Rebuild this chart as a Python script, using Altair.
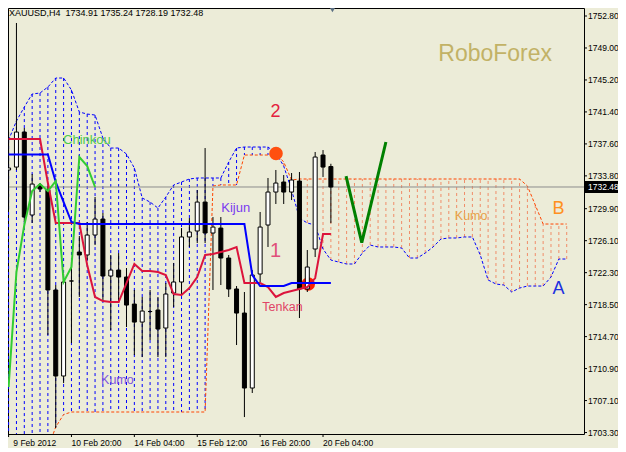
import altair as alt
import pandas as pd

# ---------------- data ----------------
open_ = [1734.50, 1734.85, 1739.01, 1729.15, 1732.72, 1732.12, 1720.24, 1710.02, 1721.31, 1724.75,
         1724.40, 1726.77, 1728.67, 1721.90, 1722.61, 1721.78, 1718.57, 1716.43, 1717.68, 1717.86,
         1715.72, 1719.88, 1721.19, 1726.54, 1727.25, 1730.69, 1727.01, 1727.60, 1724.04, 1720.36,
         1717.50, 1708.59, 1722.14, 1727.96, 1731.88, 1733.07, 1731.88, 1733.19, 1720.36, 1725.11,
         1736.28, 1734.91]
high = [1739.01, 1751.97, 1739.49, 1734.02, 1732.95, 1732.60, 1720.83, 1722.14, 1723.56, 1726.65,
        1728.32, 1731.29, 1729.39, 1724.40, 1724.63, 1722.85, 1720.24, 1719.41, 1720.24, 1719.41,
        1721.07, 1723.45, 1727.60, 1728.79, 1732.12, 1737.11, 1728.91, 1728.91, 1724.40, 1720.71,
        1720.00, 1722.61, 1729.51, 1733.55, 1734.50, 1733.90, 1734.14, 1734.26, 1724.99, 1736.64,
        1736.87, 1735.24]
low = [1729.74, 1734.50, 1728.32, 1728.20, 1731.88, 1714.89, 1703.84, 1709.18, 1713.94, 1719.41,
       1723.80, 1725.58, 1719.05, 1715.48, 1718.69, 1715.84, 1712.51, 1712.27, 1714.29, 1712.27,
       1712.27, 1718.22, 1719.64, 1725.35, 1725.82, 1725.82, 1720.24, 1720.83, 1719.41, 1713.70,
       1705.14, 1708.00, 1721.19, 1725.35, 1730.46, 1730.46, 1730.93, 1716.91, 1720.00, 1724.16,
       1733.67, 1728.19]
close = [1734.74, 1739.01, 1728.91, 1732.83, 1732.24, 1720.24, 1710.02, 1721.19, 1721.31, 1724.40,
         1726.77, 1728.67, 1721.90, 1722.61, 1721.78, 1718.45, 1716.43, 1717.74, 1717.68, 1715.60,
         1719.76, 1721.19, 1726.54, 1727.13, 1730.69, 1727.01, 1727.72, 1724.04, 1720.36, 1717.50,
         1708.59, 1722.02, 1727.72, 1731.88, 1732.95, 1731.88, 1733.31, 1720.36, 1722.97, 1736.04,
         1734.85, 1732.48]

tenkan = [1738.18, 1738.18, 1738.18, 1738.18, 1738.18, 1732.95, 1728.20, 1728.20, 1728.20, 1728.20,
          1723.21, 1719.41, 1718.93, 1718.81, 1718.81, 1721.07, 1723.33, 1722.49, 1722.49, 1722.38,
          1722.02, 1719.76, 1719.64, 1720.47, 1721.78, 1724.40, 1724.52, 1724.75, 1724.99, 1725.35,
          1721.07, 1721.07, 1721.07, 1720.59, 1719.41, 1719.88, 1720.12, 1720.36, 1720.59, 1721.66,
          1726.89, 1726.89]
kijun = [1736.34, 1736.34, 1736.34, 1736.34, 1736.34, 1736.34, 1733.07, 1730.69, 1728.32, 1728.08,
         1728.08, 1728.08, 1728.08, 1728.08, 1728.08, 1728.08, 1728.08, 1728.08, 1728.08, 1728.08,
         1728.08, 1728.08, 1728.08, 1728.08, 1728.08, 1728.08, 1728.08, 1728.08, 1728.08, 1728.08,
         1728.08, 1722.02, 1720.71, 1720.71, 1720.71, 1720.71, 1721.07, 1721.07, 1721.07, 1721.07,
         1721.07, 1721.07]
chinkou = [1708.71, 1722.38, 1727.96, 1732.00, 1732.83, 1732.00, 1733.19, 1721.19, 1722.97, 1736.04,
           1734.97, 1732.48]

span_a = [1738.06, 1740.32, 1741.98, 1743.53, 1743.65, 1744.36, 1745.43, 1745.43, 1744.00, 1741.39,
          1741.15, 1741.03, 1738.30, 1737.11, 1737.11, 1736.40, 1734.74, 1731.17, 1730.69, 1729.98,
          1731.29, 1732.72, 1733.07, 1733.43, 1733.55, 1733.55, 1733.55, 1733.55, 1735.45, 1737.11,
          1737.23, 1737.23, 1737.23, 1737.23, 1736.52, 1734.97, 1732.12, 1728.79, 1728.20, 1727.96,
          1725.11, 1723.80, 1723.56, 1723.33, 1723.33, 1724.63, 1725.58, 1725.35, 1725.35, 1725.35,
          1725.23, 1724.04, 1724.04, 1724.63, 1725.35, 1726.30, 1726.42, 1726.42, 1726.54, 1726.54,
          1724.40, 1721.43, 1720.95, 1720.83, 1720.00, 1720.47, 1720.71, 1720.71, 1720.71, 1721.78,
          1723.92, 1723.92]
span_b = [1701.40, 1701.40, 1701.40, 1701.40, 1701.40, 1701.40, 1703.96, 1705.44, 1705.74, 1705.74,
          1705.74, 1705.74, 1705.74, 1705.74, 1705.74, 1705.74, 1705.74, 1705.74, 1705.74, 1705.74,
          1705.74, 1705.74, 1705.74, 1705.74, 1705.74, 1705.74, 1732.60, 1732.72, 1732.72, 1732.72,
          1736.28, 1736.28, 1736.28, 1736.28, 1736.52, 1735.45, 1733.31, 1733.43, 1733.43, 1733.43,
          1733.43, 1733.43, 1733.43, 1733.43, 1733.43, 1733.43, 1733.43, 1733.43, 1733.43, 1733.43,
          1733.43, 1733.43, 1733.43, 1733.43, 1733.43, 1733.43, 1733.43, 1733.43, 1733.43, 1733.43,
          1733.43, 1733.43, 1733.43, 1733.43, 1733.43, 1733.43, 1732.60, 1730.34, 1728.08, 1728.08,
          1728.08, 1728.08]

y_tick_values = [1703.30, 1707.10, 1710.90, 1714.70, 1718.50, 1722.30, 1726.10, 1729.90,
                 1733.80, 1737.60, 1741.40, 1745.20, 1749.00, 1752.80]
x_tick_bars = [0, 8, 16, 24, 32, 40]
x_label_bars = [0.6, 8, 16, 24, 32, 40]
x_labels = ["9 Feb 2012", "10 Feb 20:00", "14 Feb 04:00", "15 Feb 12:00", "16 Feb 20:00", "20 Feb 04:00"]

v_bars = [42.93, 44.93, 48.0]
v_prices = [1733.78, 1725.86, 1737.83]

title_text = "XAUUSD,H4\u00a0\u00a01734.91 1735.24 1728.19 1732.48"

# ---------------- scales ----------------
FONT = "Liberation Sans"
W, H = 576, 426
xs = alt.Scale(domain=[0.5625, 72.5625], nice=False, zero=False)
ys = alt.Scale(domain=[1703.127, 1753.751], nice=False, zero=False)


def X(f):
    return alt.X(f, type="quantitative", scale=xs, axis=None)


def Y(f):
    return alt.Y(f, type="quantitative", scale=ys, axis=None)


n = len(open_)
candles = pd.DataFrame({"bar": list(range(n)), "o": open_, "h": high, "l": low, "c": close})
candles["lo"] = candles[["o", "c"]].min(axis=1)
candles["hi"] = candles[["o", "c"]].max(axis=1)
candles["dir"] = ["up" if c >= o else "down" for o, c in zip(open_, close)]

cloud = pd.DataFrame({"bar": list(range(len(span_a))), "a": span_a, "b": span_b})
cloud["side"] = ["A" if a >= b else "B" for a, b in zip(span_a, span_b)]

hatch = alt.Chart(cloud).mark_rule(strokeDash=[3, 3], strokeWidth=1, clip=True).encode(
    x=X("bar"), y=Y("a"), y2="b",
    color=alt.Color("side:N", scale=alt.Scale(domain=["A", "B"], range=["#0000FF", "#F08C68"]),
                    legend=None))

line_a = alt.Chart(cloud).mark_line(strokeDash=[3, 2], strokeWidth=1, color="#0000FF",
                                    clip=True).encode(x=X("bar"), y=Y("a"))
line_b = alt.Chart(cloud).mark_line(strokeDash=[3, 2], strokeWidth=1, color="#FF4500",
                                    clip=True).encode(x=X("bar"), y=Y("b"))

price_line = alt.Chart(pd.DataFrame({"p": [close[-1]]})).mark_rule(
    color="#8C8C8C", strokeWidth=1).encode(y=Y("p"))

circle2 = alt.Chart(pd.DataFrame({"bar": [34.02], "p": [1736.46]})).mark_point(
    filled=True, shape="circle", size=185, opacity=1, color="#FF5010").encode(x=X("bar"), y=Y("p"))
circle1 = alt.Chart(pd.DataFrame({"bar": [38.12], "p": [1720.95]})).mark_point(
    filled=True, shape="circle", size=185, opacity=1, color="#FF1E00").encode(x=X("bar"), y=Y("p"))

wicks = alt.Chart(candles).mark_rule(color="black", strokeWidth=1, clip=True).encode(
    x=X("bar"), y=Y("l"), y2="h")
bodies = alt.Chart(candles).mark_bar(size=4, stroke="black", strokeWidth=1, clip=True).encode(
    x=X("bar"), y=Y("lo"), y2="hi",
    fill=alt.Fill("dir:N", scale=alt.Scale(domain=["up", "down"], range=["white", "black"]),
                  legend=None))

tenkan_l = alt.Chart(pd.DataFrame({"bar": list(range(len(tenkan))), "p": tenkan})).mark_line(
    color="#DC143C", strokeWidth=2, clip=True).encode(x=X("bar"), y=Y("p"))
kijun_l = alt.Chart(pd.DataFrame({"bar": list(range(len(kijun))), "p": kijun})).mark_line(
    color="#0000FF", strokeWidth=2, clip=True).encode(x=X("bar"), y=Y("p"))
chinkou_l = alt.Chart(pd.DataFrame({"bar": list(range(len(chinkou))), "p": chinkou})).mark_line(
    color="#32CD32", strokeWidth=2, clip=True).encode(x=X("bar"), y=Y("p"))

v_line = alt.Chart(pd.DataFrame({"bar": v_bars, "p": v_prices})).mark_line(
    color="#008000", strokeWidth=3).encode(x=X("bar"), y=Y("p"))


def label(text, bar, price, color, size):
    return alt.Chart(pd.DataFrame({"bar": [bar], "p": [price], "t": [text]})).mark_text(
        color=color, fontSize=size, font=FONT, align="center", baseline="middle").encode(
        x=X("bar"), y=Y("p"), text="t:N")


labels = [
    label("RoboForex", 61.9, 1748.28, "#C2B266", 23),
    label("2", 33.94, 1741.39, "#E4203E", 18),
    label("1", 33.96, 1724.89, "#E0507A", 20),
    label("Chinkou", 9.96, 1738.06, "#4CC94C", 13),
    label("Kijun", 28.9, 1729.98, "#7A3CF0", 13),
    label("Tenkan", 34.84, 1718.22, "#E04466", 12.5),
    label("Kumo", 13.84, 1709.54, "#7E55DE", 12.5),
    label("Kumo", 58.84, 1729.03, "#E8A048", 12.5),
    label("A", 69.96, 1720.41, "#2030E0", 18),
    label("B", 69.96, 1729.86, "#FF9020", 18),
]

# right price scale (ticks + labels)
ydf = pd.DataFrame({"p": y_tick_values, "t": ["%.2f" % v for v in y_tick_values]})
yticks = alt.Chart(ydf).mark_rule(color="black", strokeWidth=1).encode(
    y=Y("p"), x=alt.value(W), x2=alt.value(W + 3))
ylabels = alt.Chart(ydf).mark_text(align="left", baseline="middle", fontSize=8.5, font=FONT,
                                   color="black").encode(y=Y("p"), x=alt.value(W + 4), text="t:N")

# bottom time scale (ticks + labels)
xticks = alt.Chart(pd.DataFrame({"bar": x_tick_bars})).mark_rule(color="black", strokeWidth=1).encode(
    x=X("bar"), y=alt.value(H), y2=alt.value(H + 3))
xlabels = alt.Chart(pd.DataFrame({"bar": x_label_bars, "t": x_labels})).mark_text(
    align="left", baseline="middle", fontSize=8.5, font=FONT, color="black").encode(
    x=X("bar"), y=alt.value(H + 9), text="t:N")

# current price box on the price scale
last = close[-1]
pbox = alt.Chart(pd.DataFrame({"top": [last + 0.72], "bot": [last - 0.72]})).mark_rect(
    color="black").encode(x=alt.value(W + 1), x2=alt.value(W + 34), y=Y("top"), y2="bot")
ptext = alt.Chart(pd.DataFrame({"p": [last], "t": ["%.2f" % last]})).mark_text(
    align="left", baseline="middle", fontSize=8.5, font=FONT, color="white").encode(
    x=alt.value(W + 4), y=Y("p"), text="t:N")

title = alt.Chart(pd.DataFrame({"t": [title_text]})).mark_text(
    align="left", baseline="top", fontSize=9, font=FONT, color="black").encode(
    x=alt.value(1), y=alt.value(1), text="t:N")
marker = alt.Chart(pd.DataFrame({"bar": [41.2]})).mark_point(
    shape="triangle-down", filled=True, size=30, color="#5B6F82", opacity=1).encode(
    x=X("bar"), y=alt.value(2))

chart = alt.layer(
    hatch, line_a, line_b, price_line, circle2, circle1, wicks, bodies,
    tenkan_l, kijun_l, chinkou_l, v_line, *labels, yticks, ylabels, xticks, xlabels,
    pbox, ptext, title, marker
).properties(
    width=W, height=H,
    autosize=alt.AutoSizeParams(type="none"),
    padding={"left": 0, "top": 0, "right": 34, "bottom": 14},
    background="#ECECD8",
).configure_view(stroke="black", strokeWidth=1)

chart.save("out.html", embed_options={"renderer": "svg", "actions": False})
